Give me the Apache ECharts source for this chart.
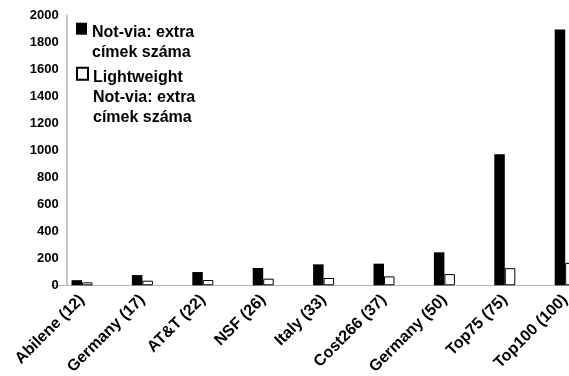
<!DOCTYPE html>
<html>
<head>
<meta charset="utf-8">
<script src="https://cdn.jsdelivr.net/npm/echarts@6/dist/echarts.min.js"></script>
<style>
html,body{margin:0;padding:0;background:#fff;}
#c{width:569px;height:376px;}
</style>
</head>
<body>
<div id="c"></div>
<script>
const categories = ['Abilene (12)', 'Germany (17)', 'AT&T (22)', 'NSF (26)', 'Italy (33)', 'Cost266 (37)', 'Germany (50)', 'Top75 (75)', 'Top100 (100)'];
const notViaName = 'Not-via: extra\ncímek száma';
const lightName = 'Lightweight\nNot-via: extra\ncímek száma';
const notViaValues = [38, 76, 98, 128, 155, 160, 244, 970, 1892];
const lightValues = [22, 34, 39, 49, 54, 66, 83, 127, 166];
const yTicks = [0, 200, 400, 600, 800, 1000, 1200, 1400, 1600, 1800, 2000];

const FONT = 'Liberation Sans, Arial, sans-serif';
const AXIS_GRAY = '#b4b4b4';

const chart = echarts.init(document.getElementById('c'), null, {renderer: 'canvas'});
function legendText(spacer) {
  return {fontFamily: FONT, fontWeight: 'bold', fontSize: 16, lineHeight: 20, color: '#000',
    rich: {s: {lineHeight: spacer, fontSize: 16}}};
}

chart.setOption({
  animation: false,
  backgroundColor: '#fff',
  grid: [
    {left: 51.8, width: 543.6, top: 15, bottom: 90.7, containLabel: false, outerBoundsMode: 'none'},
    {left: 66.7, width: 528.7, top: 15, bottom: 90.7, containLabel: false, outerBoundsMode: 'none'}
  ],
  legend: [
    {
      orient: 'vertical', left: 76, top: -5.3, padding: 0,
      itemWidth: 11, itemHeight: 12, icon: 'rect',
      textStyle: legendText(28),
      formatter: function (n) { return '{s| }\n' + n; },
      data: [notViaName]
    },
    {
      orient: 'vertical', left: 76, top: 19.7, padding: 0,
      itemWidth: 11, itemHeight: 12, icon: 'rect',
      textStyle: legendText(48),
      formatter: function (n) { return '{s| }\n' + n; },
      data: [lightName]
    }
  ],
  xAxis: [
    {
      type: 'category', gridIndex: 0, data: categories,
      axisLine: {show: true, lineStyle: {color: AXIS_GRAY, width: 1}},
      axisTick: {show: false},
      axisLabel: {rotate: 45, margin: 12, interval: 0, fontFamily: FONT, fontWeight: 'bold', fontSize: 16, color: '#000'},
      splitLine: {show: false}
    },
    {
      type: 'category', gridIndex: 1, data: categories, position: 'top',
      axisLine: {show: true, lineStyle: {color: AXIS_GRAY, width: 1}},
      axisTick: {show: false}, axisLabel: {show: false}, splitLine: {show: false}
    }
  ],
  yAxis: [
    {
      type: 'value', gridIndex: 0, min: yTicks[0], max: yTicks[yTicks.length - 1], interval: 200,
      offset: -14.9,
      axisLine: {show: true, lineStyle: {color: AXIS_GRAY, width: 1.5}},
      axisTick: {show: false},
      axisLabel: {margin: 8, fontFamily: FONT, fontWeight: 'bold', fontSize: 13, color: '#000',
        formatter: function (v) { return String(v); }},
      splitLine: {show: false}
    },
    {type: 'value', gridIndex: 1, show: false}
  ],
  series: [
    {
      name: notViaName, type: 'bar', xAxisIndex: 0, yAxisIndex: 0,
      data: notViaValues, barWidth: 10.5, barGap: '0%',
      itemStyle: {color: '#000'}
    },
    {
      name: lightName, type: 'bar', xAxisIndex: 0, yAxisIndex: 0,
      data: lightValues, barWidth: 10.5, barGap: '0%',
      itemStyle: {color: '#fff', borderColor: '#000', borderWidth: 1}
    }
  ]
});
</script>
</body>
</html>
